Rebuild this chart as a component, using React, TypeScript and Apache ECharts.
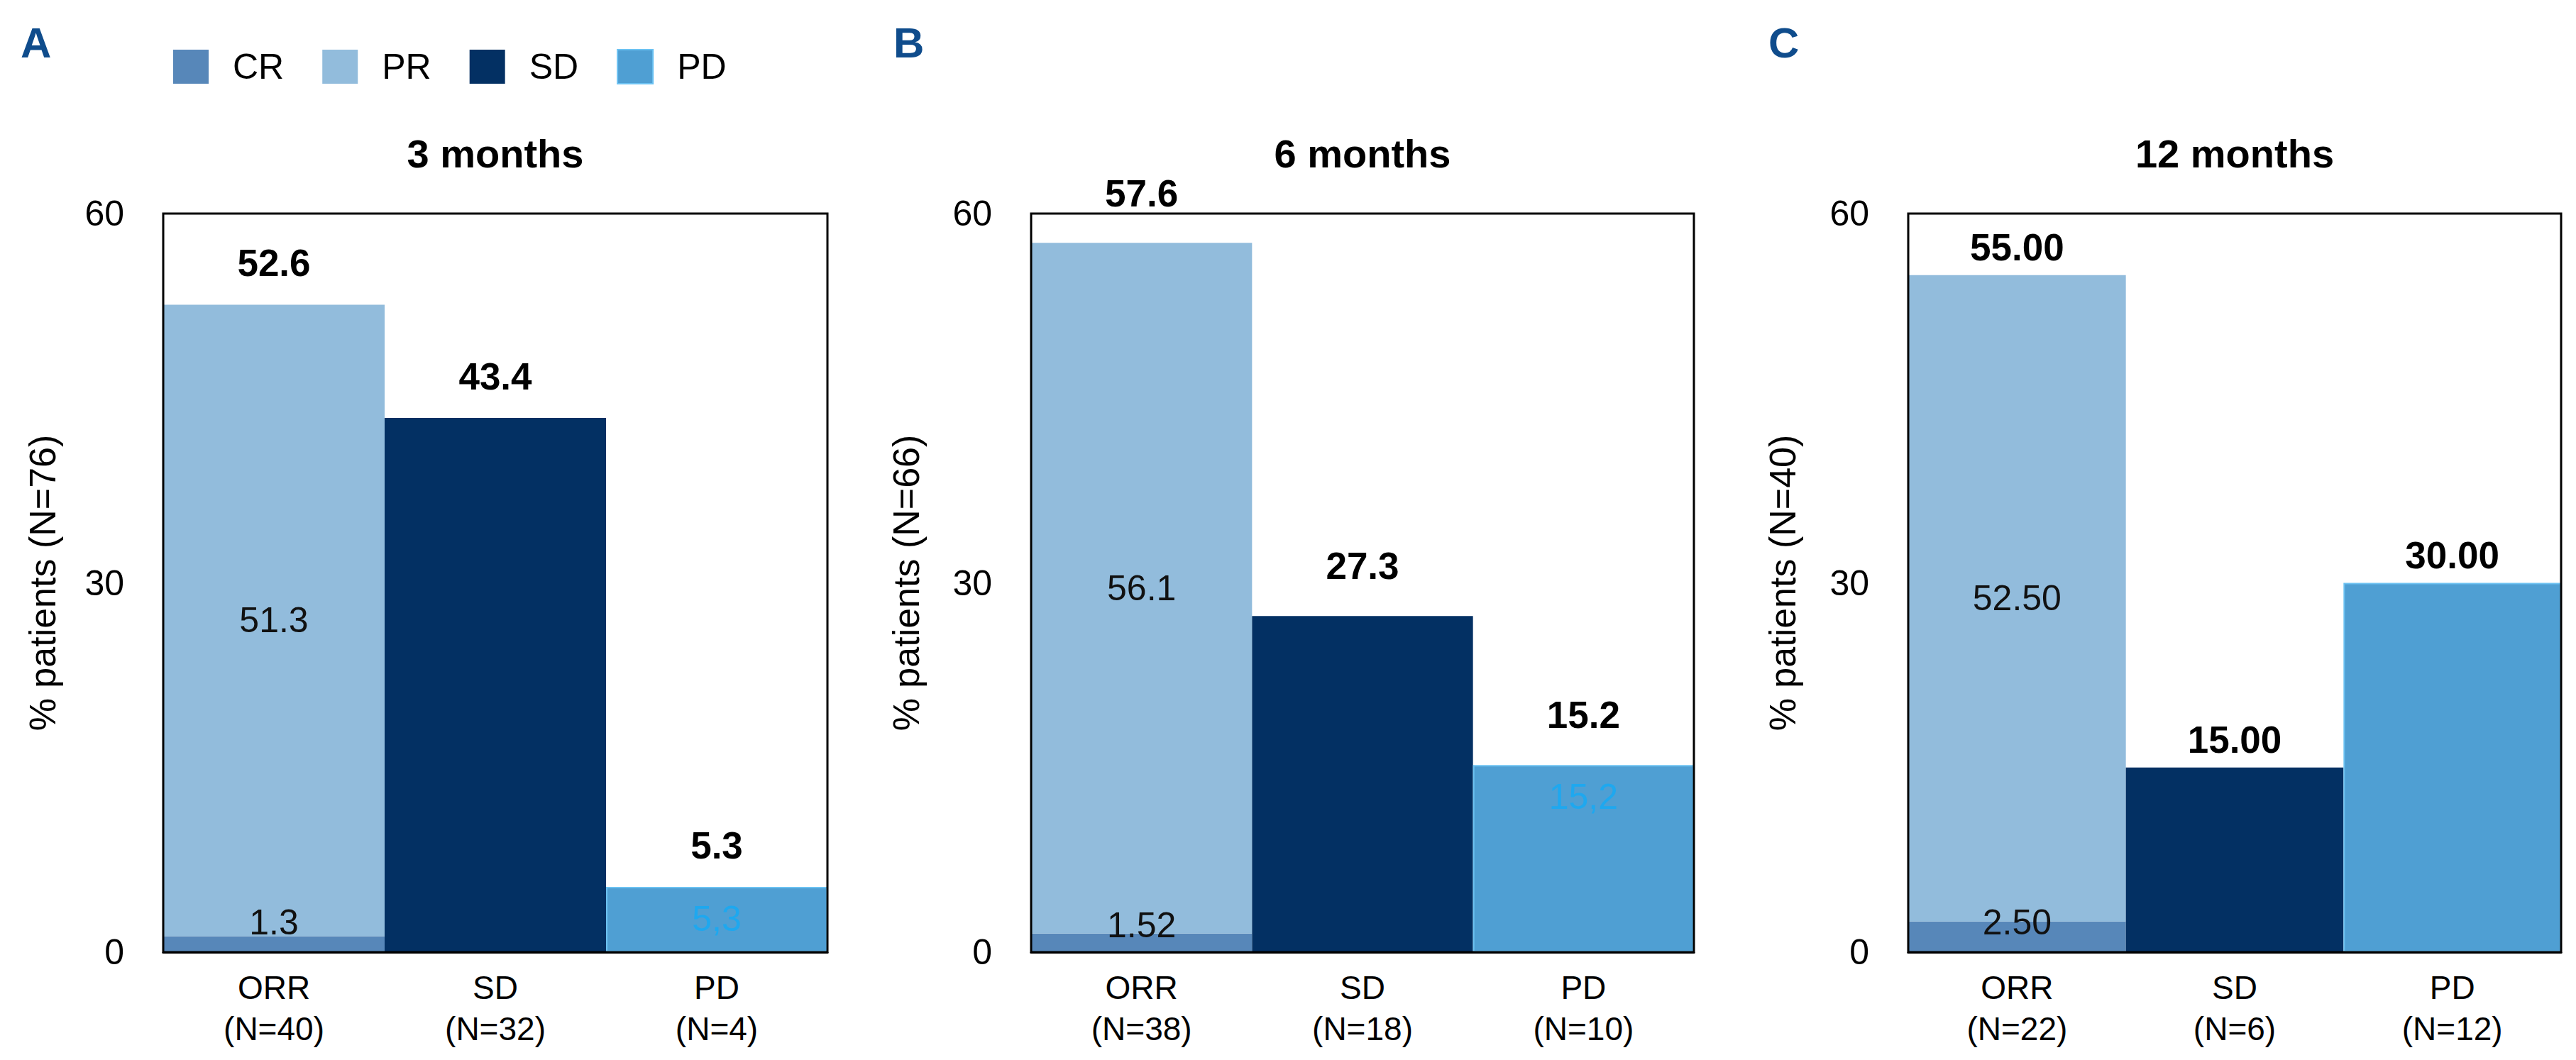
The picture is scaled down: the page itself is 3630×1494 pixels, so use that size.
import React, { useEffect, useRef } from "react";
import * as echarts from "echarts";

// ---------- data ----------
const panelLetters = ["A", "B", "C"];
const panelTitles = ["3 months", "6 months", "12 months"];
const yAxisNames = ["% patients (N=76)", "% patients (N=66)", "% patients (N=40)"];
const categoriesA = ["ORR\n(N=40)", "SD\n(N=32)", "PD\n(N=4)"];
const categoriesB = ["ORR\n(N=38)", "SD\n(N=18)", "PD\n(N=10)"];
const categoriesC = ["ORR\n(N=22)", "SD\n(N=6)", "PD\n(N=12)"];
const legendNames = ["CR", "PR", "SD", "PD"];
const crValues = [1.3, 1.52, 2.5];
const prValues = [51.3, 56.1, 52.5];
const orrValues = [52.6, 57.6, 55.0];
const sdValues = [43.4, 27.3, 15.0];
const pdValues = [5.3, 15.2, 30.0];
const yTicks = [0, 30, 60];
const crDecimals = [1, 2, 2];
const valueDecimals = [1, 1, 2];
const showPdInner = [true, true, false];

// ---------- layout / style ----------
const FONT = "'Liberation Sans', Arial, Helvetica, sans-serif";
const COLORS = { CR: "#5787b9", PR: "#92bcdc", SD: "#033063", PD: "#4f9fd3" };
const PD_LABEL = "#1ea8ef";
const GRID_TOP = 301;
const GRID_H = 1041;
const gridBoxes = [
  { left: 230, width: 936 },
  { left: 1453, width: 934 },
  { left: 2689, width: 920 },
];
const topLabelDist = [32, 44, 13];
const crLabelDist = [-6, -13, -26];
const nameGaps = [144, 150, 151];
const letterX = [29, 1259, 2492];

const categories = [categoriesA, categoriesB, categoriesC];

function buildOption() {
  const series: any[] = [];
  for (let i = 0; i < 3; i++) {
    const stack = "s" + i;
    const common = { type: "bar", xAxisIndex: i, yAxisIndex: i, stack, barCategoryGap: 0, barGap: "-100%", z: 2 };
    series.push({
      ...common,
      name: "CR",
      data: [crValues[i], "-", "-"],
      itemStyle: { color: COLORS.CR },
      label: {
        show: true,
        position: "top",
        distance: crLabelDist[i],
        fontSize: 50,
        color: "#111",
        fontFamily: FONT,
        formatter: (p: any) => Number(p.value).toFixed(crDecimals[i]),
      },
    });
    series.push({
      ...common,
      name: "PR",
      data: [prValues[i], "-", "-"],
      itemStyle: { color: COLORS.PR },
      label: {
        show: true,
        position: "inside",
        fontSize: 50,
        color: "#111",
        fontFamily: FONT,
        formatter: (p: any) => Number(p.value).toFixed(valueDecimals[i]),
      },
    });
    series.push({
      ...common,
      name: "SD",
      data: ["-", sdValues[i], "-"],
      itemStyle: { color: COLORS.SD },
    });
    series.push({
      ...common,
      name: "PD",
      data: ["-", "-", pdValues[i]],
      itemStyle: { color: COLORS.PD, borderColor: "#6cc2f2", borderWidth: 2 },
      label: {
        show: showPdInner[i],
        position: "insideTop",
        distance: 20,
        fontSize: 50,
        color: PD_LABEL,
        fontFamily: FONT,
        formatter: (p: any) => Number(p.value).toFixed(valueDecimals[i]).replace(".", ","),
      },
    });
    series.push({
      type: "bar",
      name: "total",
      xAxisIndex: i,
      yAxisIndex: i,
      barCategoryGap: 0,
      barGap: "-100%",
      silent: true,
      z: 3,
      data: [orrValues[i], sdValues[i], pdValues[i]],
      itemStyle: { color: "rgba(0,0,0,0)" },
      label: {
        show: true,
        position: "top",
        distance: topLabelDist[i],
        fontSize: 53,
        fontWeight: "bold",
        color: "#000",
        fontFamily: FONT,
        formatter: (p: any) => Number(p.value).toFixed(valueDecimals[i]),
      },
    });
  }

  const graphic: any[] = [];
  panelLetters.forEach((t, i) => {
    graphic.push({
      type: "text",
      x: letterX[i],
      y: 60,
      style: {
        text: t,
        fontSize: 60,
        fontWeight: "bold",
        fontFamily: FONT,
        fill: "#0f4c8c",
        align: "left",
        verticalAlign: "middle",
      },
    });
  });
  panelTitles.forEach((t, i) => {
    graphic.push({
      type: "text",
      x: gridBoxes[i].left + gridBoxes[i].width / 2,
      y: 216,
      style: {
        text: t,
        fontSize: 56,
        fontWeight: "bold",
        fontFamily: FONT,
        fill: "#000",
        align: "center",
        verticalAlign: "middle",
      },
    });
  });

  return {
    animation: false,
    backgroundColor: "#fff",
    textStyle: { fontFamily: FONT },
    legend: {
      data: legendNames,
      left: 239,
      top: 64,
      itemWidth: 50,
      itemHeight: 48,
      itemGap: 54,
      icon: "rect",
      selectedMode: false,
      textStyle: { fontSize: 50, color: "#000", fontFamily: FONT, padding: [0, 0, 0, 29] },
    },
    grid: gridBoxes.map((g) => ({
      left: g.left,
      top: GRID_TOP,
      width: g.width,
      height: GRID_H,
      show: true,
      borderColor: "#000",
      borderWidth: 3,
      backgroundColor: "transparent",
      z: 5,
    })),
    xAxis: categories.map((c, i) => ({
      type: "category",
      gridIndex: i,
      data: c,
      z: 6,
      axisLine: { show: true, lineStyle: { color: "#000", width: 3 } },
      axisTick: { show: false },
      axisLabel: {
        interval: 0,
        margin: 21,
        fontSize: 46,
        lineHeight: 58,
        color: "#000",
        fontFamily: FONT,
      },
    })),
    yAxis: yAxisNames.map((n, i) => ({
      type: "value",
      gridIndex: i,
      min: yTicks[0],
      max: yTicks[yTicks.length - 1],
      interval: yTicks[1] - yTicks[0],
      name: n,
      nameLocation: "middle",
      nameGap: nameGaps[i],
      nameTextStyle: { fontSize: 52, color: "#000", fontFamily: FONT },
      axisLine: { show: false },
      axisTick: { show: false },
      splitLine: { show: false },
      axisLabel: { margin: 55, fontSize: 50, color: "#000", fontFamily: FONT },
    })),
    graphic,
    series,
  };
}

export default function App() {
  const ref = useRef<HTMLDivElement>(null);
  useEffect(() => {
    document.body.style.margin = "0";
    const chart = echarts.init(ref.current!, undefined, { renderer: "svg" });
    chart.setOption(buildOption() as any);
    return () => chart.dispose();
  }, []);
  return <div ref={ref} style={{ width: 3630, height: 1494, background: "#fff" }} />;
}
